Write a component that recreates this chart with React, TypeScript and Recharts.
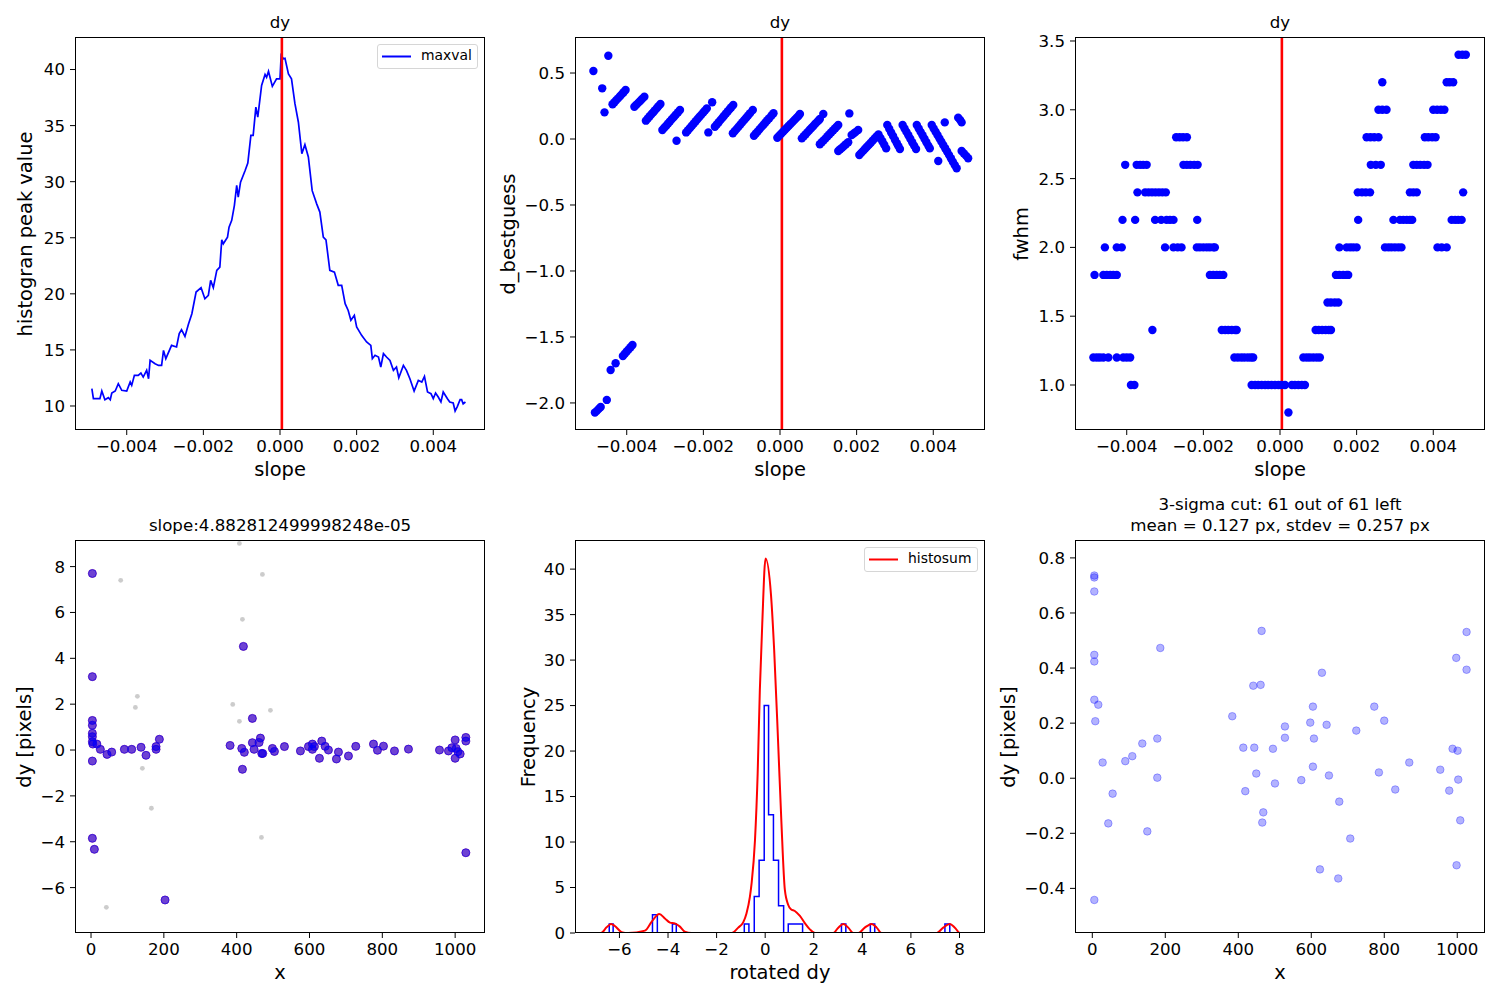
import React from 'react';
import { ComposedChart, Line, Scatter, XAxis, YAxis, ReferenceLine } from 'recharts';

// ---------- layout ----------
const FONT = '"DejaVu Sans", "Liberation Sans", sans-serif';
const PLOT_W = 410;
const PLOT_H = 393;
const Y_AXIS_W = 70;
const X_AXIS_H = 40;
const PAD = 12;
const COL_LEFT = [75, 575, 1075];
const ROW_TOP = [37, 540];
const TICK_FONT = 16.67;
const LABEL_FONT = 19.44;
const TITLE_FONT = 16.67;
const LEGEND_FONT = 13.9;

// ---------- shared slope axis ----------
const BEST_SLOPE = 4.882812499998248e-5;
const SLOPE_DOMAIN = [-0.00535, 0.00535];
const SLOPE_TICKS = [-0.004, -0.002, 0, 0.002, 0.004];
const SLOPE_TICK_LABELS = ['−0.004', '−0.002', '0.000', '0.002', '0.004'];

// ---------- histogram peak value vs slope ----------
const MAXVAL_SLOPE = [
  -0.00491, -0.00487, -0.0047, -0.00465, -0.00457, -0.00448, -0.00443, -0.00439, -0.0043, -0.00422,
  -0.00413, -0.004, -0.00391, -0.00387, -0.0038, -0.0037, -0.00363, -0.00357, -0.00348, -0.00343,
  -0.00339, -0.00326, -0.00317, -0.00309, -0.00304, -0.00298, -0.00283, -0.0027, -0.00263, -0.00257,
  -0.00248, -0.00239, -0.0023, -0.00219, -0.00206, -0.00196, -0.00187, -0.00181, -0.00174, -0.00165,
  -0.00157, -0.00152, -0.00148, -0.00137, -0.00133, -0.00126, -0.00119, -0.00113, -0.00109, -0.00103,
  -0.00091, -0.00084, -0.00076, -0.0007, -0.00063, -0.00058, -0.00048, -0.00039, -0.00035, -0.0003,
  -0.0002, -0.00009, 0.0, 0.00003, 0.00009, 0.00013, 0.00022, 0.0003, 0.00039, 0.00048,
  0.00057, 0.00065, 0.00074, 0.00084, 0.00096, 0.00104, 0.00113, 0.0012, 0.0013, 0.00142,
  0.00152, 0.00161, 0.0017, 0.00178, 0.00185, 0.00194, 0.002, 0.00213, 0.00226, 0.00237,
  0.00241, 0.00248, 0.00257, 0.00263, 0.0027, 0.00278, 0.00287, 0.00296, 0.00304, 0.0031,
  0.00322, 0.0033, 0.00339, 0.0035, 0.00361, 0.0037, 0.00377, 0.00385, 0.00394, 0.004,
  0.00406, 0.00413, 0.0042, 0.00426, 0.00437, 0.00443, 0.00452, 0.00457, 0.00463, 0.0047,
  0.00474, 0.00478, 0.00484,
];
const MAXVAL = [
  11.54, 10.65, 10.65, 11.34, 10.56, 10.74, 10.56, 11.16, 11.34, 11.99,
  11.4, 11.34, 12.14, 11.84, 12.73, 12.73, 12.94, 12.58, 13.18, 12.43,
  14.07, 13.77, 13.62, 13.62, 14.96, 14.22, 15.41, 15.26, 16.45, 16.8,
  16.2, 17.28, 18.23, 20.16, 20.55, 19.56, 19.86, 21.2, 20.55, 22.09,
  22.39, 24.82, 24.46, 25.06, 25.95, 26.55, 27.89, 29.67, 28.63, 29.96,
  31.0, 31.66, 34.13, 34.13, 36.65, 35.76, 38.58, 39.56, 39.3, 39.83,
  38.5, 39.17, 39.17, 41.25, 40.96, 41.0, 39.6, 39.17, 36.95, 35.3,
  32.5, 33.3, 32.2, 29.2, 28.0, 27.29, 25.06, 24.82, 22.09, 21.94,
  20.76, 20.76, 19.12, 18.52, 17.64, 18.08, 17.05, 16.3, 15.71, 15.41,
  14.22, 14.52, 14.37, 13.48, 14.67, 14.37, 14.07, 13.18, 13.48, 12.52,
  13.62, 13.18, 12.43, 11.34, 12.29, 12.14, 12.64, 11.25, 11.1, 10.65,
  11.16, 10.8, 10.36, 11.25, 10.65, 10.36, 10.27, 9.55, 9.97, 10.56,
  10.56, 10.2, 10.36,
];
const MAXVAL_DOMAIN = [7.86, 42.9];
const MAXVAL_TICKS = [10, 15, 20, 25, 30, 35, 40];
const MAXVAL_TICK_LABELS = ['10', '15', '20', '25', '30', '35', '40'];

// ---------- d_bestguess vs slope ----------
const BESTGUESS_SLOPE = [
  -0.00487, -0.00483, -0.00478, -0.00473, -0.00468, -0.00464, -0.00458, -0.00452, -0.00448, -0.00442,
  -0.00437, -0.00432, -0.00429, -0.00427, -0.00422, -0.00417, -0.00412, -0.0041, -0.00408, -0.00405,
  -0.00403, -0.004, -0.00395, -0.0039, -0.00385, -0.0038, -0.00375, -0.0037, -0.00365, -0.0036,
  -0.00354, -0.0035, -0.00345, -0.0034, -0.00335, -0.0033, -0.00326, -0.00321, -0.00317, -0.00312,
  -0.00307, -0.00302, -0.00297, -0.00292, -0.00287, -0.00282, -0.00277, -0.00272, -0.0027, -0.00266,
  -0.00261, -0.00245, -0.0024, -0.00235, -0.0023, -0.00225, -0.0022, -0.00215, -0.0021, -0.00205,
  -0.002, -0.00196, -0.00191, -0.00187, -0.00177, -0.0017, -0.00165, -0.0016, -0.00155, -0.0015,
  -0.00146, -0.00141, -0.00136, -0.00131, -0.00127, -0.00123, -0.00122, -0.00118, -0.00113, -0.00108,
  -0.00103, -0.00098, -0.00093, -0.00088, -0.00083, -0.00078, -0.00071, -0.00068, -0.00063, -0.00058,
  -0.00053, -0.00048, -0.00043, -0.00038, -0.00033, -0.00028, -0.00022, -0.00017, -0.00007, -0.00002,
  0.00003, 0.00008, 0.00013, 0.00018, 0.00023, 0.00028, 0.00033, 0.00038, 0.00043, 0.00048,
  0.00052, 0.00057, 0.00062, 0.00067, 0.00072, 0.00077, 0.00082, 0.00087, 0.00092, 0.00097,
  0.00101, 0.00104, 0.00104, 0.00109, 0.00113, 0.00114, 0.00119, 0.00124, 0.00129, 0.00134,
  0.00139, 0.00144, 0.00148, 0.00152, 0.00152, 0.00157, 0.00162, 0.00167, 0.00172, 0.00178,
  0.00181, 0.00187, 0.00192, 0.00197, 0.00204, 0.00207, 0.00212, 0.00217, 0.00222, 0.00227,
  0.00232, 0.00237, 0.00242, 0.00247, 0.00252, 0.00257, 0.00262, 0.00267, 0.00272, 0.00277,
  0.0028, 0.00285, 0.0029, 0.00295, 0.003, 0.00305, 0.00309, 0.00313, 0.0032, 0.00325,
  0.0033, 0.00335, 0.0034, 0.00345, 0.0035, 0.00355, 0.00357, 0.00362, 0.00367, 0.00372,
  0.00377, 0.00382, 0.00387, 0.00391, 0.00396, 0.00401, 0.00406, 0.00411, 0.00413, 0.00416,
  0.00421, 0.00426, 0.0043, 0.00431, 0.00436, 0.00441, 0.00446, 0.00451, 0.00456, 0.00461,
  0.00465, 0.0047, 0.00474, 0.00474, 0.0048, 0.00486, 0.00491,
];
const BESTGUESS = [
  0.515, -2.073, -2.06, -2.045, -2.03, 0.384, 0.202, -1.977, 0.631, -1.75,
  0.263, 0.279, -1.699, 0.295, 0.31, 0.326, 0.342, -1.644, 0.355, -1.627,
  0.371, -1.61, -1.594, -1.578, -1.561, 0.245, 0.259, 0.274, 0.288, 0.303,
  0.32, 0.139, 0.156, 0.172, 0.189, 0.205, 0.219, 0.235, 0.249, 0.265,
  0.068, 0.085, 0.101, 0.118, 0.134, 0.151, 0.167, 0.184, -0.013, 0.203,
  0.22, 0.05, 0.067, 0.084, 0.101, 0.118, 0.135, 0.152, 0.169, 0.185,
  0.202, 0.215, 0.232, 0.05, 0.278, 0.093, 0.11, 0.127, 0.145, 0.162,
  0.176, 0.193, 0.21, 0.227, 0.241, 0.043, 0.258, 0.06, 0.077, 0.094,
  0.111, 0.128, 0.145, 0.162, 0.179, 0.196, 0.22, 0.025, 0.042, 0.058,
  0.075, 0.092, 0.108, 0.125, 0.142, 0.158, 0.178, 0.195, 0.01, 0.025,
  0.04, 0.055, 0.07, 0.085, 0.1, 0.115, 0.13, 0.145, 0.16, 0.175,
  0.189, 0.005, 0.021, 0.036, 0.052, 0.068, 0.083, 0.099, 0.115, 0.13,
  0.141, 0.152, -0.04, -0.025, 0.189, -0.01, 0.005, 0.021, 0.036, 0.051,
  0.066, 0.082, 0.094, 0.106, -0.091, -0.078, -0.066, -0.053, -0.04, -0.025,
  0.194, 0.03, 0.041, 0.052, 0.068, -0.121, -0.105, -0.09, -0.074, -0.059,
  -0.043, -0.028, -0.012, 0.004, 0.019, 0.035, 0.008, -0.017, -0.044, -0.071,
  0.106, 0.078, 0.05, 0.023, -0.005, -0.032, -0.054, -0.076, 0.106, 0.08,
  0.054, 0.028, 0.002, -0.024, -0.05, -0.076, 0.106, 0.08, 0.054, 0.028,
  0.002, -0.024, -0.05, -0.071, 0.106, 0.08, 0.055, 0.03, -0.167, 0.005,
  -0.02, -0.045, 0.126, -0.07, -0.095, -0.12, -0.146, -0.172, -0.197, -0.222,
  0.162, 0.145, 0.126, -0.091, -0.11, -0.128, -0.146,
];
const BESTGUESS_DOMAIN = [-2.205, 0.773];
const BESTGUESS_TICKS = [-2, -1.5, -1, -0.5, 0, 0.5];
const BESTGUESS_TICK_LABELS = ['−2.0', '−1.5', '−1.0', '−0.5', '0.0', '0.5'];

// ---------- fwhm vs slope (fwhm comes in 0.2 px steps) ----------
const FWHM_LEVELS = [3.4, 3.2, 3.0, 2.8, 2.6, 2.4, 2.2, 2.0, 1.8, 1.6, 1.4, 1.2, 1.0, 0.8];
const FWHM_SLOPES = [
  [0.00466, 0.00476, 0.00485],
  [0.00267, 0.00435, 0.00443, 0.00452],
  [0.00257, 0.00267, 0.00278, 0.004, 0.0041, 0.0042, 0.00429],
  [-0.00271, -0.00262, -0.00253, -0.00243, 0.00226, 0.00236, 0.00246, 0.00257, 0.00378, 0.00387, 0.00397, 0.00406],
  [-0.00404, -0.00374, -0.00365, -0.00357, -0.00348, -0.00252, -0.00243, -0.00234, -0.00224, -0.00215,
    0.00237, 0.0025, 0.00263, 0.00348, 0.00357, 0.00366, 0.00376, 0.00385],
  [-0.00372, -0.00352, -0.00343, -0.00334, -0.00325, -0.00316, -0.00307, -0.00298,
    0.00203, 0.00214, 0.00224, 0.00235, 0.00339, 0.00348, 0.00357, 0.00478],
  [-0.00411, -0.00378, -0.00326, -0.0031, -0.00296, -0.00287, -0.00278, -0.00216,
    0.00204, 0.00296, 0.00313, 0.00322, 0.00331, 0.00339, 0.00345, 0.00448, 0.00457, 0.00465, 0.00474],
  [-0.00457, -0.00426, -0.00413, -0.003, -0.00278, -0.00267, -0.00257, -0.00217, -0.00209, -0.002,
    -0.00191, -0.00183, -0.00174, -0.0017, 0.00155, 0.00174, 0.00183, 0.00191, 0.002, 0.00274,
    0.00283, 0.00291, 0.003, 0.00309, 0.00317, 0.00411, 0.00422, 0.00435],
  [-0.00484, -0.00461, -0.00452, -0.00443, -0.00435, -0.00426, -0.00183, -0.00174, -0.00165, -0.00157,
    -0.00148, 0.00146, 0.00155, 0.00165, 0.00174, 0.00178],
  [0.00124, 0.00133, 0.00143, 0.00152],
  [-0.00333, -0.00152, -0.00143, -0.00135, -0.00126, -0.00117, -0.00113,
    0.00093, 0.00101, 0.0011, 0.00119, 0.00127, 0.00133],
  [-0.00487, -0.00478, -0.0047, -0.00461, -0.00448, -0.00426, -0.00409, -0.004, -0.00391,
    -0.00119, -0.0011, -0.00101, -0.00093, -0.00084, -0.00076, -0.0007,
    0.00061, 0.0007, 0.00078, 0.00087, 0.00096, 0.00104],
  [-0.00389, -0.0038, -0.00074, -0.00065, -0.00057, -0.00048, -0.00039, -0.00031, -0.00022, -0.00013,
    -0.00004, 0.00004, 0.00013, 0.00031, 0.00039, 0.00048, 0.00057, 0.00065],
  [0.00022],
];
const FWHM_DOMAIN = [0.673, 3.529];
const FWHM_TICKS = [1.0, 1.5, 2.0, 2.5, 3.0, 3.5];
const FWHM_TICK_LABELS = ['1.0', '1.5', '2.0', '2.5', '3.0', '3.5'];

// ---------- dy vs x for the chosen slope ----------
const DY_X = [
  3.7, 3.7, 3.7, 3.7, 3.7, 3.7, 3.7, 5, 16, 25.6,
  44, 56.8, 91.6, 111.7, 137.4, 151, 178.6, 178.6, 187.7, 3.7,
  3.7, 9.2, 203.3, 381.9, 418.5, 414, 421, 415.8, 443.2, 443.2,
  447.8, 461.6, 465.2, 468.9, 471.6, 498.2, 503.7, 531.2, 575.1, 597.1,
  608, 608, 613.5, 633.7, 642.9, 627.3, 652, 679.5, 674, 707,
  727.1, 775.7, 786.7, 803.2, 833.4, 871.8, 957, 981.7, 990.9, 1000,
  1002.8, 1007.4, 1000, 1013.8, 1029.4, 1029.4, 1029.4,
];
const DY = [
  7.7, 3.2, 1.29, 1.08, 0.73, 0.58, 0.36, 0.26, 0.26, 0.03,
  -0.19, -0.09, 0.03, 0.03, 0.12, -0.23, 0.03, 0.15, 0.47, -0.48,
  -3.85, -4.33, -6.54, 0.2, 4.52, 0.07, -0.1, -0.84, 1.38, 0.32,
  0.03, 0.33, 0.52, -0.15, -0.15, 0.07, -0.06, 0.15, -0.04, 0.15,
  0.26, 0.03, 0.15, 0.39, 0.16, -0.36, 0.0, -0.09, -0.39, -0.26,
  0.16, 0.26, -0.01, 0.17, -0.04, 0.04, 0.0, -0.04, 0.1, 0.44,
  0.07, -0.07, -0.36, -0.17, 0.55, 0.39, -4.48,
];
const OUTLIER_X = [81.5, 127.3, 121.8, 141, 165.8, 42.1, 407.5, 470.7, 415.8, 389.2, 407.5, 492.7, 468];
const OUTLIER_DY = [7.4, 2.34, 1.86, -0.8, -2.54, -6.86, 9.01, 7.66, 5.7, 1.99, 1.25, 1.73, -3.81];
const DY_X_DOMAIN = [-44, 1082];
const DY_DOMAIN = [-7.98, 9.16];
const X_TICKS = [0, 200, 400, 600, 800, 1000];
const X_TICK_LABELS = ['0', '200', '400', '600', '800', '1000'];
const DY_TICKS = [-6, -4, -2, 0, 2, 4, 6, 8];
const DY_TICK_LABELS = ['−6', '−4', '−2', '0', '2', '4', '6', '8'];

// ---------- rotated dy histogram ----------
const HIST_EDGES = [
  -6.42, -6.26, -4.64, -4.44, -3.82, -3.66, -0.86, -0.67, -0.45, -0.25,
  -0.04, 0.14, 0.34, 0.55, 0.76, 0.95, 1.54, 3.14, 3.32, 4.33, 4.51, 7.4, 7.6,
];
const HIST_COUNTS = [1, 0, 2, 0, 1, 0, 1, 0, 4, 8, 25, 13, 8, 3, 0, 1, 0, 1, 0, 1, 0, 1];
const HISTOSUM_X = [
  -7.18, -6.76, -6.53, -6.35, -6.19, -5.91, -5.64, -4.95, -4.67, -4.36,
  -4.13, -3.92, -3.72, -3.51, -3.31, -3.03, -1.38, -1.11, -0.9, -0.77,
  -0.63, -0.56, -0.42, -0.31, -0.22, -0.12, 0.015, 0.24, 0.37, 0.54,
  0.67, 0.81, 0.95, 1.06, 1.22, 1.43, 1.64, 1.84, 2.05, 2.8,
  3.01, 3.22, 3.42, 3.63, 3.84, 4.1, 4.38, 4.59, 4.79, 7.06,
  7.33, 7.6, 7.81, 8.02, 8.43,
];
const HISTOSUM = [
  0, 0, 0.62, 1.0, 0.77, 0.1, 0, 0.26, 1.25, 2.09,
  1.6, 1.14, 1.06, 0.7, 0.15, 0, 0, 0.59, 1.2, 2.15,
  3.98, 5.45, 10.2, 17.5, 26.7, 34.03, 41.17, 37.14, 31.1, 20.48,
  12.05, 4.73, 3.08, 2.6, 2.42, 1.87, 1.06, 0.4, 0, 0,
  0.59, 1.0, 0.59, 0, 0, 0.59, 1.0, 0.59, 0, 0,
  0.59, 1.0, 0.59, 0, 0,
];
const ROT_DOMAIN = [-7.83, 9.05];
const FREQ_DOMAIN = [0, 43.2];
const ROT_TICKS = [-6, -4, -2, 0, 2, 4, 6, 8];
const ROT_TICK_LABELS = ['−6', '−4', '−2', '0', '2', '4', '6', '8'];
const FREQ_TICKS = [0, 5, 10, 15, 20, 25, 30, 35, 40];
const FREQ_TICK_LABELS = ['0', '5', '10', '15', '20', '25', '30', '35', '40'];

// ---------- points kept after the 3-sigma cut ----------
const CUT_X = [
  5.5, 5.5, 5.5, 5.5, 5.5, 5.5, 16.4, 8.2, 5.5, 28.3,
  55.7, 43.8, 90.4, 109.6, 137, 178.1, 186.3, 178.1, 150.7, 383.5,
  413.7, 419.2, 441.1, 461.2, 463.9, 443.8, 449.3, 468.5, 465.7, 495,
  500.5, 527.8, 527.8, 572.6, 597.2, 604.5, 607.3, 604.5, 629.2, 642,
  648.4, 623.7, 673.9, 676.7, 706.8, 723.3, 772.6, 799.9, 785.3, 830.1,
  868.5, 953.4, 978, 987.2, 1000.9, 1002.7, 997.2, 1025.5, 1025.5, 1008.2,
  998.1,
];
const CUT_DY = [
  0.729, 0.736, 0.678, 0.448, 0.424, 0.285, 0.267, 0.207, -0.442, 0.057,
  -0.056, -0.164, 0.062, 0.08, 0.126, 0.144, 0.473, 0.002, -0.193, 0.225,
  0.111, -0.047, 0.336, 0.339, 0.535, 0.111, 0.017, -0.124, -0.161, 0.107,
  -0.019, 0.188, 0.147, -0.007, 0.202, 0.26, 0.144, 0.042, 0.383, 0.194,
  0.01, -0.331, -0.364, -0.085, -0.219, 0.173, 0.26, 0.209, 0.021, -0.041,
  0.057, 0.031, -0.045, 0.107, 0.1, -0.005, 0.437, 0.531, 0.394, -0.153,
  -0.316,
];
const CUT_X_DOMAIN = [-47.4, 1076];
const CUT_DY_DOMAIN = [-0.562, 0.865];
const CUT_DY_TICKS = [-0.4, -0.2, 0, 0.2, 0.4, 0.6, 0.8];
const CUT_DY_TICK_LABELS = ['−0.4', '−0.2', '0.0', '0.2', '0.4', '0.6', '0.8'];

// ---------- helpers ----------
const rows = (xs: number[], ys: number[]) => xs.map((x, i) => ({ x, y: ys[i] }));

const fwhmRows = FWHM_LEVELS.flatMap((level, i) => FWHM_SLOPES[i].map((s) => ({ x: s, y: level })));

// outline of a step histogram: up at the first edge, then one step per bin, down at the last edge
const histOutline = [
  { x: HIST_EDGES[0], y: 0 },
  ...HIST_COUNTS.map((c, i) => ({ x: HIST_EDGES[i], y: c })),
  { x: HIST_EDGES[HIST_EDGES.length - 1], y: 0 },
];

const fmt = (ticks: number[], labels: string[]) => (v: number) => {
  const i = ticks.findIndex((t) => Math.abs(t - v) < 1e-9);
  return i >= 0 ? labels[i] : String(v);
};

const dot = (r: number, fill: string, fillOpacity: number, stroke?: string, strokeOpacity?: number) =>
  (props: any) => (
    <circle
      cx={props.cx}
      cy={props.cy}
      r={r}
      fill={fill}
      fillOpacity={fillOpacity}
      stroke={stroke || 'none'}
      strokeOpacity={strokeOpacity ?? 1}
      strokeWidth={1}
    />
  );

type PanelProps = {
  col: number;
  row: number;
  xDomain: number[];
  yDomain: number[];
  xTicks: number[];
  xTickLabels: string[];
  yTicks: number[];
  yTickLabels: string[];
  children: React.ReactNode;
};

function Panel(p: PanelProps) {
  const left = COL_LEFT[p.col];
  const top = ROW_TOP[p.row];
  const tickStyle = { fill: '#000', fontSize: TICK_FONT, fontFamily: FONT };
  return (
    <>
      <div style={{ position: 'absolute', left: left - Y_AXIS_W, top: top - PAD }}>
        <ComposedChart
          width={Y_AXIS_W + PLOT_W + PAD}
          height={PAD + PLOT_H + X_AXIS_H}
          margin={{ top: PAD, right: PAD, bottom: 0, left: 0 }}
        >
          <XAxis
            type="number"
            dataKey="x"
            domain={p.xDomain}
            allowDataOverflow
            ticks={p.xTicks}
            interval={0}
            tickFormatter={fmt(p.xTicks, p.xTickLabels)}
            height={X_AXIS_H}
            tickSize={5}
            tickMargin={5}
            axisLine={false}
            tickLine={{ stroke: '#000' }}
            tick={tickStyle}
          />
          <YAxis
            type="number"
            dataKey="y"
            domain={p.yDomain}
            allowDataOverflow
            ticks={p.yTicks}
            interval={0}
            tickFormatter={fmt(p.yTicks, p.yTickLabels)}
            width={Y_AXIS_W}
            tickSize={5}
            tickMargin={5}
            axisLine={false}
            tickLine={{ stroke: '#000' }}
            tick={tickStyle}
          />
          {p.children}
        </ComposedChart>
      </div>
      <div
        style={{
          position: 'absolute',
          left,
          top,
          width: PLOT_W,
          height: PLOT_H,
          border: '1px solid #000',
          boxSizing: 'border-box',
          pointerEvents: 'none',
        }}
      />
    </>
  );
}

function HText({ text, cx, baseline, size }: { text: string; cx: number; baseline: number; size: number }) {
  return (
    <div
      style={{
        position: 'absolute',
        left: cx - 300,
        width: 600,
        top: baseline - 0.846 * size,
        fontSize: size,
        lineHeight: `${size}px`,
        textAlign: 'center',
        whiteSpace: 'nowrap',
        color: '#000',
      }}
    >
      {text}
    </div>
  );
}

function VText({ text, cx, cy, size }: { text: string; cx: number; cy: number; size: number }) {
  return (
    <div
      style={{
        position: 'absolute',
        left: cx,
        top: cy,
        fontSize: size,
        lineHeight: `${size}px`,
        whiteSpace: 'nowrap',
        color: '#000',
        transform: 'translate(-50%, -50%) rotate(-90deg)',
      }}
    >
      {text}
    </div>
  );
}

function LegendBox({ left, top, width, color, label }: { left: number; top: number; width: number; color: string; label: string }) {
  return (
    <div
      style={{
        position: 'absolute',
        left,
        top,
        width,
        height: 25,
        border: '1px solid #d6d6d6',
        borderRadius: 3,
        background: 'rgba(255,255,255,0.8)',
        boxSizing: 'border-box',
      }}
    >
      <svg width={32} height={23} style={{ position: 'absolute', left: 3, top: 0 }}>
        <line x1={1} y1={11.5} x2={30} y2={11.5} stroke={color} strokeWidth={2} />
      </svg>
      <div
        style={{
          position: 'absolute',
          left: 43,
          top: 4,
          fontSize: LEGEND_FONT,
          lineHeight: `${LEGEND_FONT}px`,
          whiteSpace: 'nowrap',
        }}
      >
        {label}
      </div>
    </div>
  );
}

export default function App() {
  const cx = (col: number) => COL_LEFT[col] + PLOT_W / 2;
  const midTop = ROW_TOP[0] + PLOT_H / 2;
  const midBottom = ROW_TOP[1] + PLOT_H / 2;
  return (
    <div
      style={{
        position: 'absolute',
        left: 0,
        top: 0,
        width: 1500,
        height: 1000,
        background: '#fff',
        fontFamily: FONT,
        overflow: 'hidden',
      }}
    >
      {/* histogram peak value */}
      <Panel col={0} row={0} xDomain={SLOPE_DOMAIN} yDomain={MAXVAL_DOMAIN} xTicks={SLOPE_TICKS}
        xTickLabels={SLOPE_TICK_LABELS} yTicks={MAXVAL_TICKS} yTickLabels={MAXVAL_TICK_LABELS}>
        <Line data={rows(MAXVAL_SLOPE, MAXVAL)} dataKey="y" type="linear" stroke="#0000ff" strokeWidth={1.7}
          dot={false} activeDot={false} isAnimationActive={false} />
        <ReferenceLine x={BEST_SLOPE} stroke="#ff0000" strokeWidth={2.6} />
      </Panel>

      {/* d_bestguess */}
      <Panel col={1} row={0} xDomain={SLOPE_DOMAIN} yDomain={BESTGUESS_DOMAIN} xTicks={SLOPE_TICKS}
        xTickLabels={SLOPE_TICK_LABELS} yTicks={BESTGUESS_TICKS} yTickLabels={BESTGUESS_TICK_LABELS}>
        <Scatter data={rows(BESTGUESS_SLOPE, BESTGUESS)} shape={dot(4.2, '#0000ff', 1)} isAnimationActive={false} />
        <ReferenceLine x={BEST_SLOPE} stroke="#ff0000" strokeWidth={2.6} />
      </Panel>

      {/* fwhm */}
      <Panel col={2} row={0} xDomain={SLOPE_DOMAIN} yDomain={FWHM_DOMAIN} xTicks={SLOPE_TICKS}
        xTickLabels={SLOPE_TICK_LABELS} yTicks={FWHM_TICKS} yTickLabels={FWHM_TICK_LABELS}>
        <Scatter data={fwhmRows} shape={dot(4.2, '#0000ff', 1)} isAnimationActive={false} />
        <ReferenceLine x={BEST_SLOPE} stroke="#ff0000" strokeWidth={2.6} />
      </Panel>

      {/* dy against x */}
      <Panel col={0} row={1} xDomain={DY_X_DOMAIN} yDomain={DY_DOMAIN} xTicks={X_TICKS}
        xTickLabels={X_TICK_LABELS} yTicks={DY_TICKS} yTickLabels={DY_TICK_LABELS}>
        <Scatter data={rows(OUTLIER_X, OUTLIER_DY)} shape={dot(2.4, '#9a9a9a', 0.5)} isAnimationActive={false} />
        <Scatter data={rows(DY_X, DY)} shape={dot(4, '#ff0000', 0.4, '#ff0000', 0.4)} isAnimationActive={false} />
        <Scatter data={rows(DY_X, DY)} shape={dot(4, '#0000ff', 0.57, '#0000ff', 0.6)} isAnimationActive={false} />
      </Panel>

      {/* rotated dy histogram */}
      <Panel col={1} row={1} xDomain={ROT_DOMAIN} yDomain={FREQ_DOMAIN} xTicks={ROT_TICKS}
        xTickLabels={ROT_TICK_LABELS} yTicks={FREQ_TICKS} yTickLabels={FREQ_TICK_LABELS}>
        <Line data={histOutline} dataKey="y" type="stepAfter" stroke="#0000ff" strokeWidth={1.5}
          dot={false} activeDot={false} isAnimationActive={false} />
        <Line data={rows(HISTOSUM_X, HISTOSUM)} dataKey="y" type="monotone" stroke="#ff0000" strokeWidth={2}
          dot={false} activeDot={false} isAnimationActive={false} />
      </Panel>

      {/* 3-sigma cut */}
      <Panel col={2} row={1} xDomain={CUT_X_DOMAIN} yDomain={CUT_DY_DOMAIN} xTicks={X_TICKS}
        xTickLabels={X_TICK_LABELS} yTicks={CUT_DY_TICKS} yTickLabels={CUT_DY_TICK_LABELS}>
        <Scatter data={rows(CUT_X, CUT_DY)} shape={dot(3.8, '#0000ff', 0.3, '#0000ff', 0.3)} isAnimationActive={false} />
      </Panel>

      {/* titles */}
      <HText text="dy" cx={cx(0)} baseline={28.7} size={TITLE_FONT} />
      <HText text="dy" cx={cx(1)} baseline={28.7} size={TITLE_FONT} />
      <HText text="dy" cx={cx(2)} baseline={28.7} size={TITLE_FONT} />
      <HText text="slope:4.882812499998248e-05" cx={cx(0)} baseline={531.7} size={TITLE_FONT} />
      <HText text="3-sigma cut: 61 out of 61 left" cx={cx(2)} baseline={511.5} size={TITLE_FONT} />
      <HText text="mean = 0.127 px, stdev = 0.257 px" cx={cx(2)} baseline={531.7} size={TITLE_FONT} />

      {/* axis labels */}
      <HText text="slope" cx={cx(0)} baseline={476} size={LABEL_FONT} />
      <HText text="slope" cx={cx(1)} baseline={476} size={LABEL_FONT} />
      <HText text="slope" cx={cx(2)} baseline={476} size={LABEL_FONT} />
      <HText text="x" cx={cx(0)} baseline={979} size={LABEL_FONT} />
      <HText text="rotated dy" cx={cx(1)} baseline={979} size={LABEL_FONT} />
      <HText text="x" cx={cx(2)} baseline={979} size={LABEL_FONT} />
      <VText text="histogran peak value" cx={26} cy={midTop} size={LABEL_FONT} />
      <VText text="d_bestguess" cx={509} cy={midTop} size={LABEL_FONT} />
      <VText text="fwhm" cx={1022} cy={midTop} size={LABEL_FONT} />
      <VText text="dy [pixels]" cx={24.5} cy={midBottom} size={LABEL_FONT} />
      <VText text="Frequency" cx={529} cy={midBottom} size={LABEL_FONT} />
      <VText text="dy [pixels]" cx={1009} cy={midBottom} size={LABEL_FONT} />

      {/* legends */}
      <LegendBox left={377} top={44} width={101} color="#0000ff" label="maxval" />
      <LegendBox left={864} top={547} width={114} color="#ff0000" label="histosum" />
    </div>
  );
}
